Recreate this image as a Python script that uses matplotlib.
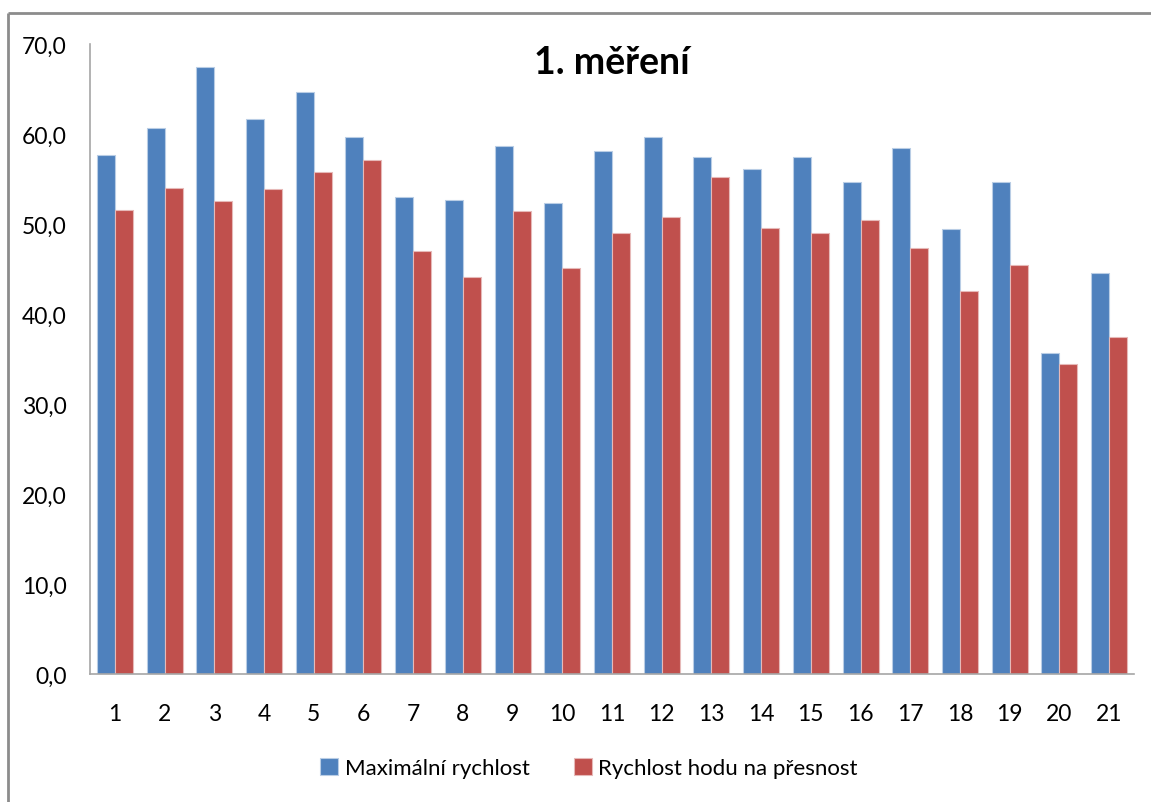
import matplotlib
matplotlib.use("Agg")
import matplotlib.pyplot as plt
from matplotlib.lines import Line2D

categories = [str(i) for i in range(1, 22)]
max_speed = [57.7, 60.7, 67.4, 61.7, 64.7, 59.7, 53.0, 52.7, 58.7, 52.3, 58.1,
             59.7, 57.4, 56.1, 57.4, 54.7, 58.4, 49.4, 54.7, 35.7, 44.6]
accuracy_speed = [51.6, 54.0, 52.6, 53.9, 55.8, 57.1, 47.0, 44.1, 51.4, 45.1, 49.0,
                  50.8, 55.2, 49.6, 49.0, 50.4, 47.3, 42.6, 45.4, 34.4, 37.4]
series_names = ["Maximální rychlost", "Rychlost hodu na přesnost"]
yticks = [0, 10, 20, 30, 40, 50, 60, 70]
title = "1. měření"

plt.rcParams['font.family'] = ['Lato', 'DejaVu Sans']

W, H = 1151, 803
fig = plt.figure(figsize=(W / 100, H / 100), dpi=100)

# outer chart frame (top and left visible)
fig.add_artist(Line2D([8 / W, 8 / W], [0, 1 - 14 / H], transform=fig.transFigure,
                      color="#8c8c8c", lw=2, solid_capstyle="butt"))
fig.add_artist(Line2D([8 / W, 1], [1 - 14 / H, 1 - 14 / H], transform=fig.transFigure,
                      color="#8c8c8c", lw=2, solid_capstyle="butt"))

left, right = 90 / W, 1134 / W
bottom, top = 1 - 675 / H, 1 - 45 / H
ax = fig.add_axes([left, bottom, right - left, top - bottom])

x = list(range(len(categories)))
bw = 0.362
blue = "#4F81BD"
red = "#C0504D"
ax.bar([i - bw / 2 for i in x], max_speed, width=bw, color=blue,
       edgecolor="#b9cde5", linewidth=0.8, label=series_names[0])
ax.bar([i + bw / 2 for i in x], accuracy_speed, width=bw, color=red,
       edgecolor="#e6b9b8", linewidth=0.8, label=series_names[1])

ax.set_xlim(-0.5, len(categories) - 0.5)
ax.set_ylim(0, 70)
ax.set_yticks(yticks)
ax.set_yticklabels([f"{v:.1f}".replace(".", ",") for v in yticks])
ax.set_xticks(x)
ax.set_xticklabels(categories)
ax.tick_params(axis="y", length=0, pad=17, labelsize=16.5, colors="#000000")
ax.tick_params(axis="x", length=0, pad=21, labelsize=16.5, colors="#000000")

for s in ["top", "right"]:
    ax.spines[s].set_visible(False)
ax.spines["left"].set_color("#a6a6a6")
ax.spines["bottom"].set_color("#a6a6a6")
ax.spines["left"].set_linewidth(1.2)
ax.spines["bottom"].set_linewidth(1.2)

fig.text(612 / W, 1 - 63 / H, title, ha="center", va="center",
         fontsize=27, fontweight="bold")

leg = fig.legend(loc="center", bbox_to_anchor=(589 / W, 1 - 769 / H),
                 ncol=2, frameon=False, fontsize=16, handlelength=0.8,
                 handleheight=0.8, handletextpad=0.3, columnspacing=2.0)

fig.savefig("out.png", dpi=100)
